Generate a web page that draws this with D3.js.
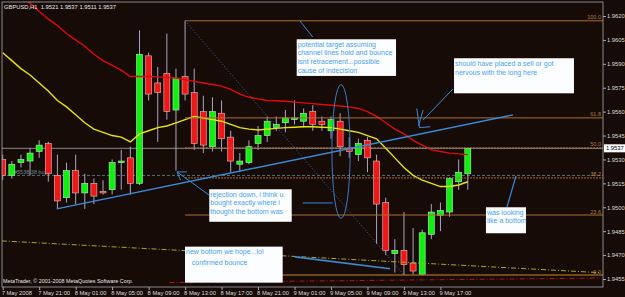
<!DOCTYPE html>
<html><head><meta charset="utf-8">
<script src="https://cdn.jsdelivr.net/npm/d3@7"></script>
<style>html,body{margin:0;padding:0;background:#170b08;overflow:hidden}text{font-family:"Liberation Sans",Arial,sans-serif}</style>
</head><body><svg id="c" width="625" height="297"></svg>
<script>
// ---- DATA (GBPUSD H1, bars from 7 May 2008 17:00) ----
const openP  = [1.9530,1.9520,1.9528,1.9529,1.9535,1.9540,1.9520,1.9506,1.9523,1.9509,1.9515,1.9510,1.9511,1.9528,1.9531,1.9515,1.9595,1.9578,1.9584,1.9561,1.9582,1.9572,1.9560,1.9538,1.9559,1.9544,1.9527,1.9528,1.9540,1.9545,1.9550,1.9553,1.9555,1.9554,1.9560,1.9554,1.9548,1.9554,1.9537,1.9533,1.9542,1.9529,1.9503,1.9471,1.9473,1.9465,1.9458,1.9483,1.9495,1.9497,1.9516,1.9521];
const highP  = [1.9533,1.9529,1.9533,1.9537,1.9542,1.9541,1.9533,1.9528,1.9533,1.9521,1.9518,1.9517,1.9530,1.9536,1.9538,1.9611,1.9597,1.9588,1.9609,1.9587,1.9617,1.9587,1.9570,1.9569,1.9567,1.9548,1.9534,1.9542,1.9551,1.9557,1.9557,1.9561,1.9567,1.9562,1.9564,1.9557,1.9557,1.9559,1.9544,1.9543,1.9544,1.9533,1.9506,1.9480,1.9497,1.9487,1.9486,1.9502,1.9503,1.9519,1.9530,1.9537];
const lowP   = [1.9517,1.9518,1.9525,1.9520,1.9531,1.9516,1.9499,1.9503,1.9502,1.9499,1.9502,1.9508,1.9508,1.9511,1.9508,1.9514,1.9567,1.9541,1.9555,1.9523,1.9567,1.9536,1.9534,1.9535,1.9535,1.9522,1.9522,1.9527,1.9536,1.9541,1.9548,1.9547,1.9552,1.9550,1.9548,1.9548,1.9543,1.9532,1.9531,1.9529,1.9522,1.9477,1.9470,1.9459,1.94575,1.9458,1.9458,1.9480,1.9485,1.9494,1.9511,1.9511];
const closeP = [1.9520,1.9527,1.9530,1.9534,1.9539,1.9521,1.9504,1.9523,1.9509,1.9515,1.9507,1.9509,1.9528,1.9529,1.9515,1.9596,1.9571,1.9572,1.9560,1.9581,1.9571,1.9540,1.9539,1.9560,1.9543,1.9529,1.9529,1.9538,1.9545,1.9554,1.9552,1.9556,1.9556,1.9559,1.9552,1.9552,1.9555,1.9538,1.9535,1.9540,1.9531,1.9502,1.9473,1.9473,1.9464,1.9460,1.9484,1.9497,1.9498,1.9518,1.9522,1.9537];
const maSlow = [1.9642,1.9637,1.9633,1.9628,1.9623,1.9618,1.9614,1.9609,1.9605,1.9601,1.9596,1.9592,1.9589,1.9586,1.9582,1.9582,1.9582,1.95818,1.95815,1.9581,1.9580,1.9579,1.9578,1.9577,1.9576,1.9574,1.9571,1.9569,1.9568,1.9567,1.95668,1.95665,1.9566,1.95655,1.9565,1.95645,1.9564,1.95635,1.9563,1.9562,1.9560,1.9557,1.9553,1.9549,1.9546,1.9542,1.9539,1.9536,1.9535,1.9534,1.95335,1.9533];
const maFast = [1.9597,1.9592,1.9587,1.9583,1.9578,1.9573,1.9567,1.9563,1.9558,1.9553,1.9549,1.9547,1.9545,1.9544,1.9541,1.9546,1.9548,1.9550,1.9551,1.9553,1.9555,1.9557,1.9556,1.9555,1.9554,1.9552,1.9550,1.9549,1.95485,1.9549,1.95495,1.9550,1.95502,1.95505,1.95505,1.95502,1.9550,1.9549,1.9548,1.9547,1.9545,1.9543,1.9537,1.9531,1.9525,1.9520,1.9517,1.9515,1.9513,1.9513,1.9514,1.9516];
const priceTicks = [1.9620,1.9605,1.9590,1.9575,1.9560,1.9545,1.9530,1.9515,1.9500,1.9485,1.9470,1.9455];
const timeTickBars = [0,4,8,12,16,20,24,28,32,36,40,44,48];
const timeLabels = ["7 May 2008","7 May 21:00","8 May 01:00","8 May 05:00","8 May 09:00","8 May 13:00","8 May 17:00","8 May 21:00","9 May 01:00","9 May 05:00","9 May 09:00","9 May 13:00","9 May 17:00"];
const fibLevels = [100.0,61.8,50.0,38.2,23.6,0.0];
const fibLabels = ["100.0","61.8","50.0","38.2","23.6","0.0"];
const fibFrom = {bar:20, price:1.9617}, fibTo = {bar:44, price:1.94575};
const bidPrice = 1.9537, orderPrice = 1.9520;
const header = "GBPUSD,H1  1.9521 1.9537 1.9511 1.9537";
const copyright = "MetaTrader, \u00A9 2001-2008 MetaQuotes Software Corp.";
// drawn objects (bar index, price)
const trendLines = [
  {a:[5.92,1.9499], b:[55.95,1.9558], w:1.4, dash:null},
  {a:[32.05,1.94689], b:[42.47,1.94614], w:1.6, dash:null},
  {a:[46.09,1.95547], b:[49.37,1.95742], w:1, dash:null},
  {a:[55.3,1.95002], b:[56.28,1.95196], w:1.2, dash:null},
  {a:[19.11,1.95222], b:[22.62,1.95077], w:1, dash:null},
  {a:[32.6,1.96169], b:[34.0,1.96068], w:1, dash:null},
  {a:[32.9,1.95027], b:[36.2,1.95027], w:1, dash:null}
];
const dashDotLines = [
  {a:[-0.1,1.94789], b:[65.5,1.9459], color:"#a8a820"},
  {a:[18.3,1.94528], b:[65.5,1.94556], color:"#b01818"}
];
const notes = [
  {b0:32.24,p0:1.96054,b1:43.13,p1:1.95824,lh:8.7,lines:["potential target assuming","channel lines hold and bounce","isnt retracement...possible","cause of indecision"]},
  {b0:49.49,p0:1.95935,b1:62.64,p1:1.95715,lh:9,lines:["should have placed a sell or got","nervous with the long here"]},
  {b0:22.65,p0:1.95113,b1:31.69,p1:1.94909,lh:8.5,lines:["rejection down, i think u","bought exactly where i","thought the bottom was"]},
  {b0:52.99,p0:1.95000,b1:57.38,p1:1.94837,lh:8,lines:["was looking","like a bottom"]},
  {b0:19.99,p0:1.94753,b1:30.70,p1:1.94527,lh:11.5,lines:["new bottom we hope...lol","   confirmed bounce"]}
];

// ---- CHART ----
const svg = d3.select("#c");
const P = {l:2, t:2, r:603, b:287};
const x = d3.scaleLinear().domain([0,51]).range([2.7,467.8]);
const y = d3.scaleLinear().domain([1.9455,1.9620]).range([279,16]);

svg.append("rect").attr("width",625).attr("height",297).attr("fill","#170b08");
svg.append("clipPath").attr("id","clip").append("rect")
  .attr("x",P.l).attr("y",P.t).attr("width",P.r-P.l).attr("height",P.b-P.t);
const g = svg.append("g").attr("clip-path","url(#clip)");

// order line & bid line
g.append("line").attr("x1",P.l).attr("x2",P.r).attr("y1",y(orderPrice)).attr("y2",y(orderPrice))
  .attr("stroke","#4e7676").attr("stroke-width",1).attr("stroke-dasharray","3,2");
g.append("text").attr("x",14).attr("y",y(orderPrice)-1.5).attr("fill","#6a8a8a")
  .attr("font-size",5.5).text("#5538.38 buy");
g.append("line").attr("x1",P.l).attr("x2",P.r).attr("y1",y(bidPrice)).attr("y2",y(bidPrice))
  .attr("stroke","#8a8a8a").attr("stroke-width",1);

// candles
const idx = d3.range(openP.length);
g.selectAll("line.wick").data(idx).enter().append("line")
  .attr("x1",i=>x(i)).attr("x2",i=>x(i)).attr("y1",i=>y(highP[i])).attr("y2",i=>y(lowP[i]))
  .attr("stroke","#aaa4c4").attr("stroke-width",1);
g.selectAll("rect.body").data(idx).enter().append("rect")
  .attr("x",i=>x(i)-3).attr("width",6)
  .attr("y",i=>y(Math.max(openP[i],closeP[i])))
  .attr("height",i=>Math.max(1.2,Math.abs(y(openP[i])-y(closeP[i]))))
  .attr("fill",i=>closeP[i]>=openP[i]?"#10f010":"#ee1818")
  .attr("stroke",i=>closeP[i]>=openP[i]?"#b8f0b8":"#f0b8b8").attr("stroke-width",0.6);

// moving averages
const line = d3.line().x((d,i)=>x(i)).y(d=>y(d));
g.append("path").datum(maSlow).attr("d",line).attr("fill","none").attr("stroke","#e00a0a").attr("stroke-width",1.4);
g.append("path").datum(maFast).attr("d",line).attr("fill","none").attr("stroke","#e6e612").attr("stroke-width",1.4);

// fibonacci
const fr = fibFrom.price - fibTo.price;
fibLevels.forEach((lv,k)=>{
  const py = y(fibTo.price + fr*lv/100);
  const dotted = (lv===50||lv===38.2);
  g.append("line").attr("x1",x(fibFrom.bar)).attr("x2",P.r).attr("y1",py).attr("y2",py)
    .attr("stroke", lv===0?"#c8862c":"#a87030").attr("stroke-width",1)
    .attr("stroke-dasharray",dotted?"2,1":null);
  g.append("text").attr("x",P.r-2).attr("y",py-1.5).attr("text-anchor","end")
    .attr("fill","#b07c3c").attr("font-size",5.5).text(fibLabels[k]);
});
g.append("line").attr("x1",x(fibFrom.bar)).attr("y1",y(fibFrom.price))
  .attr("x2",x(fibTo.bar)).attr("y2",y(fibTo.price))
  .attr("stroke","#3a6a9c").attr("stroke-width",1).attr("stroke-dasharray","1,2");

// dash-dot lines
dashDotLines.forEach(l=>{
  g.append("line").attr("x1",x(l.a[0])).attr("y1",y(l.a[1])).attr("x2",x(l.b[0])).attr("y2",y(l.b[1]))
   .attr("stroke",l.color).attr("stroke-width",1).attr("stroke-dasharray","5,2,1,2");
});

// trend lines
trendLines.forEach(l=>{
  g.append("line").attr("x1",x(l.a[0])).attr("y1",y(l.a[1])).attr("x2",x(l.b[0])).attr("y2",y(l.b[1]))
   .attr("stroke","#3a8ad6").attr("stroke-width",l.w);
});
// arrow heads / marker
const ah = [[19.11,1.95222,20.2,1.95222],[19.11,1.95222,19.5,1.9517]];
ah.forEach(a=>g.append("line").attr("x1",x(a[0])).attr("y1",y(a[1])).attr("x2",x(a[2])).attr("y2",y(a[3])).attr("stroke","#3a8ad6"));
const mk = [[45.4,1.9562,45.7,1.9550],[46.1,1.9561,45.6,1.9551],[45.7,1.9550,46.9,1.95505]];
mk.forEach(a=>g.append("line").attr("x1",x(a[0])).attr("y1",y(a[1])).attr("x2",x(a[2])).attr("y2",y(a[3])).attr("stroke","#3a8ad6"));
// ellipse
g.append("ellipse").attr("cx",x(37.1)).attr("cy",y(1.9535)).attr("rx",x(38.1)-x(37.1))
  .attr("ry",y(1.9556)-y(1.9598)).attr("fill","none").attr("stroke","#3a7ac0").attr("stroke-width",1);

// notes
notes.forEach(n=>{
  const x0=x(n.b0), y0=y(n.p0);
  g.append("rect").attr("x",x0).attr("y",y0).attr("width",x(n.b1)-x0).attr("height",y(n.p1)-y0)
   .attr("fill","#fbfdff");
  n.lines.forEach((t,k)=>g.append("text").attr("x",x0+1).attr("y",y0+7.3+k*n.lh)
   .attr("fill","#4aa2f2").attr("font-size",7).attr("xml:space","preserve").text(t));
});

// header & copyright
svg.append("text").attr("x",4).attr("y",9).attr("fill","#e8e8e8").attr("font-size",5.8).attr("xml:space","preserve").text(header);
svg.append("text").attr("x",3).attr("y",283).attr("fill","#e8e8e8").attr("font-size",5.4).text(copyright);

// frame
svg.append("rect").attr("x",P.l).attr("y",P.t).attr("width",P.r-P.l).attr("height",P.b-P.t)
  .attr("fill","none").attr("stroke","#a8a8b0").attr("stroke-width",0.8);

// price axis
const ya = svg.append("g").attr("transform",`translate(${P.r},0)`)
  .call(d3.axisRight(y).tickValues(priceTicks).tickFormat(d3.format(".4f")).tickSize(3).tickPadding(1));
ya.select(".domain").remove();
ya.selectAll("line").attr("stroke","#a8a8b0");
ya.selectAll("text").attr("fill","#dcdcdc").attr("font-size",5.8).attr("font-family","Liberation Sans, Arial");
// bid label
svg.append("rect").attr("x",P.r+1).attr("y",y(bidPrice)-4).attr("width",21).attr("height",8).attr("fill","#ffffff");
svg.append("text").attr("x",P.r+3).attr("y",y(bidPrice)+2).attr("fill","#000").attr("font-size",5.8).text(bidPrice.toFixed(4));

// time axis
const xa = svg.append("g").attr("transform",`translate(0,${P.b})`)
  .call(d3.axisBottom(x).tickValues(timeTickBars).tickFormat((d,i)=>timeLabels[i]).tickSize(3).tickPadding(1));
xa.select(".domain").remove();
xa.selectAll("line").attr("stroke","#a8a8b0");
xa.selectAll("text").attr("fill","#dcdcdc").attr("font-size",5.8).attr("text-anchor","start")
  .attr("dx",-1.5).attr("font-family","Liberation Sans, Arial");
</script></body></html>
